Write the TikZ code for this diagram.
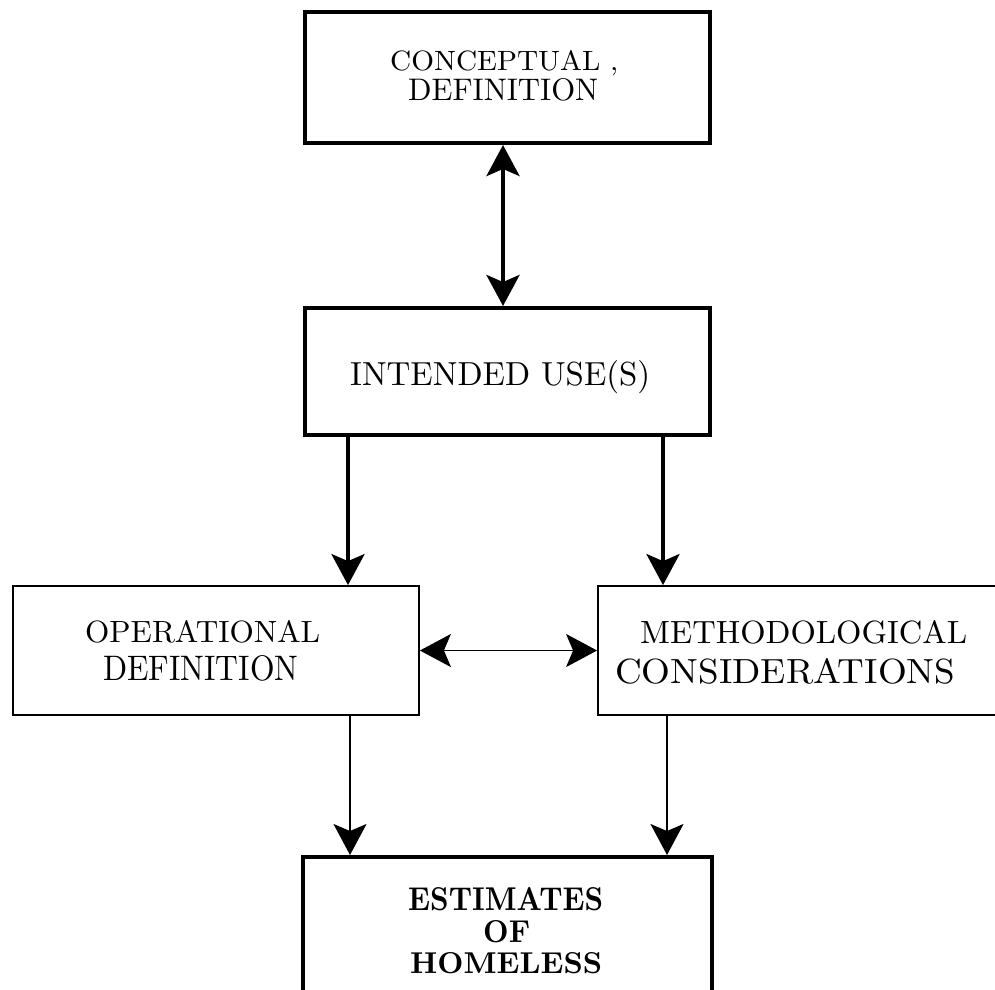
\documentclass[tikz,border=0pt]{standalone}
\usepackage{fontspec}
\usepackage{graphicx}
\usetikzlibrary{arrows.meta}
\newcommand\fitline[3]{\resizebox{#1pt}{#2pt}{#3}}
\newcommand\spc{\addfontfeature{LetterSpace=12}}
\begin{document}
\begin{tikzpicture}[x=1pt,y=-1pt,
  thickbox/.style={draw, rectangle, line width=4pt, inner sep=0pt},
  thinbox/.style={draw, rectangle, line width=1.8pt, inner sep=0pt},
  txt/.style={inner sep=0pt, anchor=base west},
  tipA/.tip={Stealth[length=31pt,width=33pt,inset=7pt]},
  heavy/.style={line width=4pt, -tipA},
  heavytwo/.style={line width=4pt, tipA-tipA},
  light/.style={line width=1.8pt, -tipA},
  lighttwo/.style={line width=1.8pt, tipA-tipA},
]
\useasboundingbox (0,0) rectangle (995,989);
\fill[white] (0,0) rectangle (995,989);
\begin{scope}
\clip (0,0) rectangle (995,989);
% boxes
\node[thickbox, minimum width=405pt, minimum height=131pt] (b1) at (507.5,77.5) {};
\node[thickbox, minimum width=405pt, minimum height=127pt] (b2) at (507.5,371.5) {};
\node[thinbox, minimum width=406pt, minimum height=129pt] (b3) at (216,650.5) {};
\node[thinbox, minimum width=412pt, minimum height=129pt] (b4) at (804,650.5) {};
\node[thickbox, minimum width=409pt, minimum height=153pt] (b5) at (507.5,933.5) {};
% texts
\node[txt] (t1a) at (390,70) {\fitline{228}{20}{\spc CONCEPTUAL ,}};
\node[txt] (t1b) at (408,100) {\fitline{190}{22}{\addfontfeature{LetterSpace=3}DEFINITION}};
\node[txt] (t2) at (350,385) {\fitline{300}{25}{INTENDED USE(S)}};
\node[txt] (t3a) at (85,642) {\fitline{235}{22}{\spc OPERATIONAL}};
\node[txt] (t3b) at (103,680) {\fitline{195}{25}{DEFINITION}};
\node[txt] (t4a) at (640,643) {\fitline{327}{23}{\addfontfeature{LetterSpace=4}METHODOLOGICAL}};
\node[txt] (t4b) at (615,683) {\fitline{340}{25}{\addfontfeature{LetterSpace=8}CONSIDERATIONS}};
\node[txt] (t5a) at (408,910) {\fitline{195}{23}{\bfseries ESTIMATES}};
\node[txt] (t5b) at (483,942) {\fitline{47}{22}{\bfseries OF}};
\node[txt] (t5c) at (410,973) {\fitline{192}{21}{\bfseries HOMELESS}};
% connector columns
\coordinate (cx) at (503,0);
\coordinate (cl) at (348,0);
\coordinate (cr) at (663,0);
\coordinate (dl) at (350,0);
\coordinate (dr) at (667,0);
% connectors
\draw[heavytwo] (b1.south -| cx) -- (b2.north -| cx);
\draw[heavy] (b2.south -| cl) -- (b3.north -| cl);
\draw[heavy] (b2.south -| cr) -- (b4.north -| cr);
\draw[lighttwo] (b3.east) -- (b4.west);
\draw[light] (b3.south -| dl) -- (b5.north -| dl);
\draw[light] (b4.south -| dr) -- (b5.north -| dr);
\end{scope}
\end{tikzpicture}
\end{document}
